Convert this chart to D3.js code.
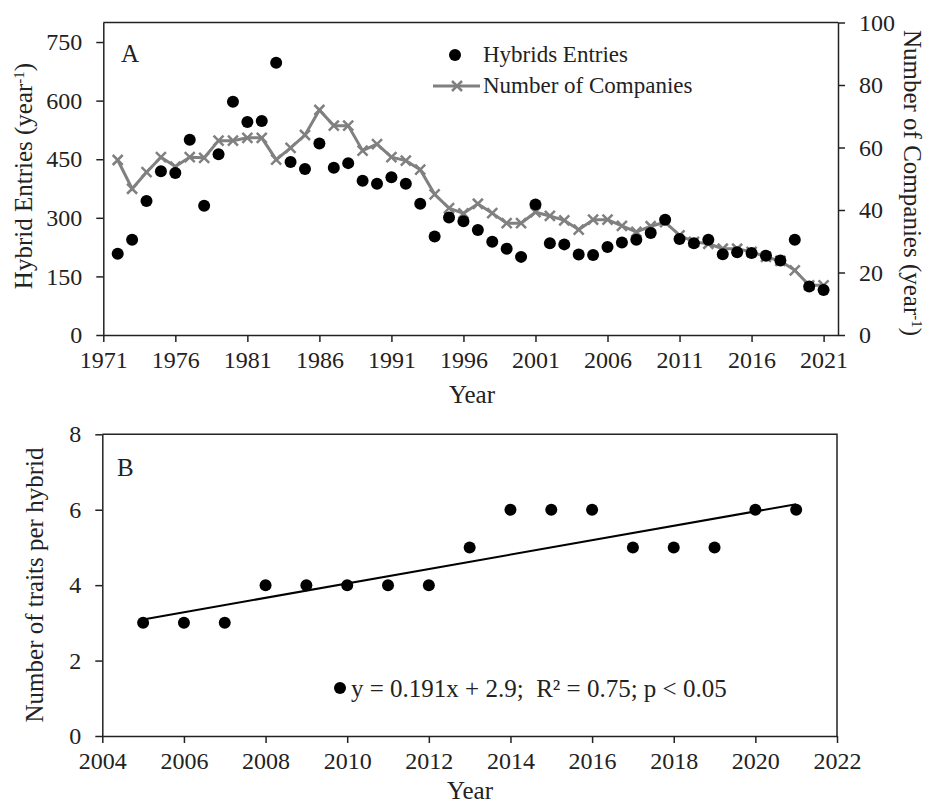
<!DOCTYPE html>
<html>
<head>
<meta charset="utf-8">
<script src="https://cdn.jsdelivr.net/npm/d3@7"></script>
<style>
  body { margin: 0; background: #fff; }
  svg { font-family: "Liberation Serif", "Times New Roman", serif; }
  .axis text { font-family: "Liberation Serif", "Times New Roman", serif; font-size: 24px; fill: #222; }
  .axis path, .axis line { stroke: #222; stroke-width: 1.5; }
</style>
</head>
<body>
<svg width="931" height="806"></svg>
<script>
// panel A data: hybrid entries and number of companies per year
var yearsA = d3.range(1972, 2022);
var hybridEntries = [208, 244, 343, 419, 415, 500, 331, 463, 597, 545, 548, 697, 443, 425,
    490, 428, 440, 395, 387, 404, 387, 336, 252, 301, 291, 269, 239, 221, 200, 334,
    235, 232, 206, 205, 225, 237, 244, 261, 295, 246, 235, 244, 207, 212, 210, 203,
    191, 244, 124, 115];
var companies = [56, 46.8, 52.1, 56.9, 53.9, 56.9, 56.7, 62.2, 62.2, 63.1, 63.1, 56.1, 59.9, 64,
    72, 67, 67, 59, 61.1, 56.9, 55.8, 52.9, 45, 40.6, 38.9, 42, 39, 35.8, 35.8, 39.3,
    38.1, 36.7, 33.7, 36.9, 36.9, 34.9, 33, 34.8, 36.1, 31.9, 29.8, 29.2, 27.6, 27.6,
    26.6, 25, 23.7, 20.7, 15.9, 15.9];
var yearTicksA = d3.range(1971, 2022, 5);
var leftTicksA = [0, 150, 300, 450, 600, 750];
var rightTicksA = [0, 20, 40, 60, 80, 100];

// panel B data: traits per hybrid
var yearsB = d3.range(2005, 2022);
var traits = [3, 3, 3, 4, 4, 4, 4, 4, 5, 6, 6, 6, 5, 5, 5, 6, 6];
var yearTicksB = d3.range(2004, 2023, 2);
var traitTicks = [0, 2, 4, 6, 8];
// fitted trend y = 0.191x + 2.9 where x = 1 for 2005
var slope = 0.191, intercept = 2.9;

var svg = d3.select('svg');
var ink = '#222';
var lineGrey = '#808080';

/* ---------- panel A ---------- */
var boxA = {l: 103.3, r: 838, t: 22.5, b: 335};

var xA = d3.scaleLinear().domain([1971, 2022]).range([boxA.l, boxA.r]);
var yLeft = d3.scaleLinear().domain([0, 800]).range([boxA.b, boxA.t]);
var yRight = d3.scaleLinear().domain([0, 100]).range([boxA.b, boxA.t]);

var gA = svg.append('g');

// top border
gA.append('line')
    .attr('x1', boxA.l).attr('x2', boxA.r)
    .attr('y1', boxA.t).attr('y2', boxA.t)
    .attr('stroke', ink).attr('stroke-width', 1.5);

gA.append('g').attr('class', 'axis')
    .attr('transform', 'translate(0,' + boxA.b + ')')
    .call(d3.axisBottom(xA).tickValues(yearTicksA).tickFormat(d3.format('d'))
        .tickSizeInner(7).tickSizeOuter(0).tickPadding(9));

gA.append('g').attr('class', 'axis')
    .attr('transform', 'translate(' + boxA.l + ',0)')
    .call(d3.axisLeft(yLeft).tickValues(leftTicksA).tickSizeInner(7).tickSizeOuter(0).tickPadding(14));

gA.append('g').attr('class', 'axis')
    .attr('transform', 'translate(' + boxA.r + ',0)')
    .call(d3.axisRight(yRight).tickValues(rightTicksA).tickSizeInner(7).tickSizeOuter(0).tickPadding(14));

// companies line with x markers
var line = d3.line()
    .x(function(d, i) { return xA(yearsA[i]); })
    .y(function(d) { return yRight(d); });

gA.append('path')
    .datum(companies)
    .attr('d', line)
    .attr('fill', 'none')
    .attr('stroke', lineGrey)
    .attr('stroke-width', 3);

function crossPath(cx, cy, s) {
    return 'M' + (cx - s) + ',' + (cy - s) + 'L' + (cx + s) + ',' + (cy + s) +
        'M' + (cx - s) + ',' + (cy + s) + 'L' + (cx + s) + ',' + (cy - s);
}

gA.selectAll('.cross')
    .data(companies)
    .enter()
    .append('path')
    .attr('class', 'cross')
    .attr('d', function(d, i) { return crossPath(xA(yearsA[i]), yRight(d), 5); })
    .attr('stroke', lineGrey)
    .attr('stroke-width', 2.5)
    .attr('fill', 'none');

// hybrid entry dots
gA.selectAll('.dotA')
    .data(hybridEntries)
    .enter()
    .append('circle')
    .attr('class', 'dotA')
    .attr('cx', function(d, i) { return xA(yearsA[i]); })
    .attr('cy', function(d) { return yLeft(d); })
    .attr('r', 6)
    .attr('fill', '#000');

// panel letter
gA.append('text')
    .attr('x', 121).attr('y', 62)
    .style('font-size', '25px').attr('fill', ink)
    .text('A');

// legend
gA.append('circle').attr('cx', 455).attr('cy', 55).attr('r', 6).attr('fill', '#000');
gA.append('text').attr('x', 483).attr('y', 62)
    .style('font-size', '23px').attr('fill', ink)
    .text('Hybrids Entries');
gA.append('line')
    .attr('x1', 433).attr('x2', 480).attr('y1', 86).attr('y2', 86)
    .attr('stroke', lineGrey).attr('stroke-width', 3);
gA.append('path').attr('d', crossPath(457, 86, 5))
    .attr('stroke', lineGrey).attr('stroke-width', 2.5);
gA.append('text').attr('x', 483).attr('y', 93)
    .style('font-size', '23px').attr('fill', ink)
    .text('Number of Companies');

// axis titles
gA.append('text')
    .attr('x', 472).attr('y', 403)
    .attr('text-anchor', 'middle')
    .style('font-size', '25px').attr('fill', ink)
    .text('Year');

var leftTitle = gA.append('text')
    .attr('transform', 'translate(32,' + 176 + ') rotate(-90)')
    .attr('text-anchor', 'middle')
    .style('font-size', '25px').attr('fill', ink);
leftTitle.append('tspan').text('Hybrid Entries (year');
leftTitle.append('tspan').attr('baseline-shift', 'super').style('font-size', '15px').text('-1');
leftTitle.append('tspan').text(')');

var rightTitle = gA.append('text')
    .attr('transform', 'translate(904,' + 183 + ') rotate(90)')
    .attr('text-anchor', 'middle')
    .style('font-size', '25px').attr('fill', ink);
rightTitle.append('tspan').text('Number of Companies (year');
rightTitle.append('tspan').attr('baseline-shift', 'super').style('font-size', '15px').text('-1');
rightTitle.append('tspan').text(')');

/* ---------- panel B ---------- */
var boxB = {l: 102.3, r: 837, t: 434.3, b: 736};

var xB = d3.scaleLinear().domain([2004, 2022]).range([boxB.l, boxB.r]);
var yB = d3.scaleLinear().domain([0, 8]).range([boxB.b, boxB.t]);

var gB = svg.append('g');

// top and right border
gB.append('path')
    .attr('d', 'M' + boxB.l + ',' + boxB.t + 'H' + boxB.r + 'V' + boxB.b)
    .attr('fill', 'none').attr('stroke', ink).attr('stroke-width', 1.5);

gB.append('g').attr('class', 'axis')
    .attr('transform', 'translate(0,' + boxB.b + ')')
    .call(d3.axisBottom(xB).tickValues(yearTicksB).tickFormat(d3.format('d'))
        .tickSizeInner(7).tickSizeOuter(0).tickPadding(9));

gB.append('g').attr('class', 'axis')
    .attr('transform', 'translate(' + boxB.l + ',0)')
    .call(d3.axisLeft(yB).tickValues(traitTicks).tickSizeInner(7).tickSizeOuter(0).tickPadding(14));

// trend line over the data range
var trend = yearsB.map(function(yr, i) { return [yr, slope * (i + 1) + intercept]; });
gB.append('path')
    .datum([trend[0], trend[trend.length - 1]])
    .attr('d', d3.line().x(function(d) { return xB(d[0]); }).y(function(d) { return yB(d[1]); }))
    .attr('stroke', '#000').attr('stroke-width', 2).attr('fill', 'none');

gB.selectAll('.dotB')
    .data(traits)
    .enter()
    .append('circle')
    .attr('class', 'dotB')
    .attr('cx', function(d, i) { return xB(yearsB[i]); })
    .attr('cy', function(d) { return yB(d); })
    .attr('r', 6)
    .attr('fill', '#000');

gB.append('text')
    .attr('x', 117).attr('y', 476)
    .style('font-size', '25px').attr('fill', ink)
    .text('B');

// equation legend
gB.append('circle').attr('cx', 340).attr('cy', 688).attr('r', 6).attr('fill', '#000');
gB.append('text').attr('x', 351).attr('y', 697)
    .style('font-size', '25px').attr('fill', ink)
    .attr('xml:space', 'preserve')
    .text('y = 0.191x + 2.9;  R² = 0.75; p < 0.05');

gB.append('text')
    .attr('x', 470).attr('y', 799)
    .attr('text-anchor', 'middle')
    .style('font-size', '25px').attr('fill', ink)
    .text('Year');

gB.append('text')
    .attr('transform', 'translate(43,' + 585 + ') rotate(-90)')
    .attr('text-anchor', 'middle')
    .style('font-size', '25px').attr('fill', ink)
    .text('Number of traits per hybrid');
</script>
</body>
</html>
